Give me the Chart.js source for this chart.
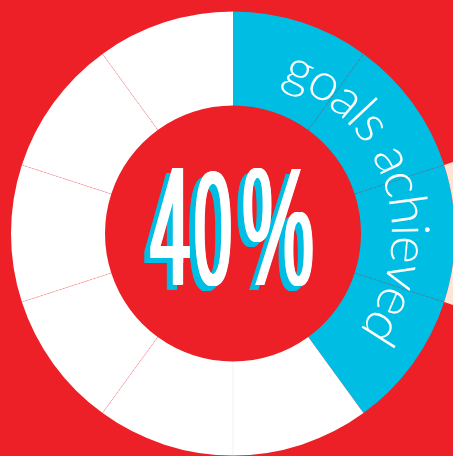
<!DOCTYPE html>
<html>
<head>
<meta charset="utf-8">
<script src="https://cdn.jsdelivr.net/npm/chart.js@4.4.1/dist/chart.umd.min.js"></script>
<style>
  html, body { margin: 0; padding: 0; background: #ed1f27; overflow: hidden; }
  canvas { display: block; }
</style>
</head>
<body>
<canvas id="chart" width="453" height="456"></canvas>
<script>
// ten equal steps, the first four are reached
const segments = ["1", "2", "3", "4", "5", "6", "7", "8", "9", "10"];
const segmentValues = [10, 10, 10, 10, 10, 10, 10, 10, 10, 10];
const achieved = 4;
const centerLabel = "40%";
const arcLabel = "goals achieved";

const RED = "#ed1f27";
const BLUE = "#00bee3";
const BEIGE = "#fce4d6";

const ringColors = segmentValues.map((v, i) => i < achieved ? BLUE : "#ffffff");
const outerColors = segmentValues.map((v, i) => i === 2 ? BEIGE : "rgba(0,0,0,0)");

// where each glyph of the big label sits: [left, top, right, bottom]
const glyphBoxes = [[150, 168, 190, 285], [195, 171, 231, 286], [243, 168, 313, 286]];

// separators between steps + the big label + the curved label
const decorPlugin = {
    id: "decor",
    afterDatasetsDraw(chart) {
        const ctx = chart.ctx;
        const meta = chart.getDatasetMeta(1);
        const arcs = meta.data;
        const cx = arcs[0].x, cy = arcs[0].y;
        const rIn = arcs[0].innerRadius, rOut = arcs[0].outerRadius;

        ctx.save();
        arcs.forEach((arc, i) => {
            if (i === 0 || i === achieved) return;
            const a = arc.startAngle;
            if (i < achieved) {
                ctx.strokeStyle = "rgba(70,110,140,0.55)";
                ctx.setLineDash([3, 2]);
            } else if (i === 5) {
                ctx.strokeStyle = "rgba(0,0,0,0.07)";
                ctx.setLineDash([]);
            } else {
                ctx.strokeStyle = "rgba(237,31,39,0.3)";
                ctx.setLineDash([3, 1]);
            }
            ctx.lineWidth = 0.8;
            ctx.beginPath();
            ctx.moveTo(cx + rIn * Math.cos(a), cy + rIn * Math.sin(a));
            ctx.lineTo(cx + rOut * Math.cos(a), cy + rOut * Math.sin(a));
            ctx.stroke();
        });
        ctx.restore();

        // curved label over the blue part
        const a0 = arcs[0].startAngle, a1 = arcs[achieved - 1].endAngle;
        const mid = (a0 + a1) / 2 + 0.01;
        const span = (a1 - a0) * 0.76;
        const rBase = 159;
        ctx.save();
        ctx.font = "300 53px Lato, 'Open Sans', sans-serif";
        ctx.fillStyle = "#ffffff";
        ctx.textAlign = "center";
        ctx.textBaseline = "alphabetic";
        const widths = [...arcLabel].map(ch => ctx.measureText(ch).width);
        const total = widths.reduce((s, w) => s + w, 0);
        const k = span / total;
        let acc = 0;
        [...arcLabel].forEach((ch, i) => {
            const ang = mid - span / 2 + (acc + widths[i] / 2) * k;
            acc += widths[i];
            ctx.save();
            ctx.translate(cx + rBase * Math.cos(ang), cy + rBase * Math.sin(ang));
            ctx.rotate(ang + Math.PI / 2);
            ctx.fillText(ch, 0, 0);
            ctx.restore();
        });
        ctx.restore();

        // big number, white with a blue offset copy, glyph by glyph
        ctx.save();
        ctx.font = "168px 'Liberation Sans Narrow', 'Liberation Sans', sans-serif";
        ctx.textAlign = "left";
        ctx.textBaseline = "alphabetic";
        const chars = [...centerLabel];
        const drawGlyph = (ch, box, dx, dy, color, smear) => {
            const m = ctx.measureText(ch);
            const tw = m.actualBoundingBoxLeft + m.actualBoundingBoxRight;
            const th = m.actualBoundingBoxAscent + m.actualBoundingBoxDescent;
            const sx = (box[2] - box[0] - smear) / tw;
            const sy = (box[3] - box[1]) / th;
            ctx.fillStyle = color;
            for (let s = 0; s <= smear; s += 0.5) {
                ctx.save();
                ctx.translate(box[0] + dx + s, box[1] + dy);
                ctx.scale(sx, sy);
                ctx.fillText(ch, m.actualBoundingBoxLeft, m.actualBoundingBoxAscent);
                ctx.restore();
            }
        };
        const smears = [4.5, 3.5, 3];
        chars.forEach((ch, i) => drawGlyph(ch, glyphBoxes[i], -6, 5, BLUE, smears[i]));
        chars.forEach((ch, i) => drawGlyph(ch, glyphBoxes[i], 0, 0, "#ffffff", smears[i]));
        ctx.restore();
    }
};

new Chart(document.getElementById("chart"), {
    type: "doughnut",
    data: {
        labels: segments,
        datasets: [
            {
                data: segmentValues,
                backgroundColor: outerColors,
                borderWidth: 0,
                weight: 48,
                clip: false
            },
            {
                data: segmentValues,
                backgroundColor: ringColors,
                borderWidth: 0,
                weight: 94,
                clip: false
            }
        ]
    },
    options: {
        responsive: false,
        animation: false,
        events: [],
        radius: 270,
        cutout: (128 / 270 * 100) + "%",
        layout: { padding: { left: 13, top: 11, right: 0, bottom: 0 } },
        plugins: {
            legend: { display: false },
            tooltip: { enabled: false }
        }
    },
    plugins: [decorPlugin]
});
</script>
</body>
</html>
